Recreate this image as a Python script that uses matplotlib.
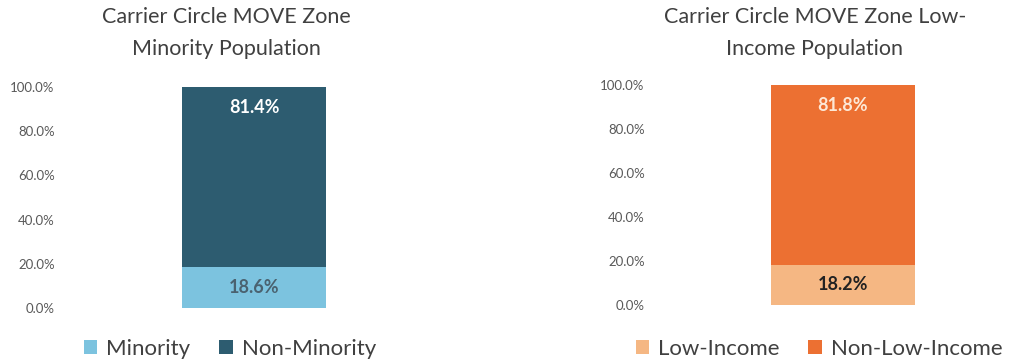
import matplotlib
matplotlib.use("Agg")
import matplotlib.pyplot as plt
from matplotlib.ticker import PercentFormatter

plt.rcParams['font.family'] = ['Lato', 'DejaVu Sans']

# shares of the zone population
minority_labels = ["Minority", "Non-Minority"]
minority_share = [18.6, 81.4]
income_labels = ["Low-Income", "Non-Low-Income"]
income_share = [18.2, 81.8]
yticks = [0, 20, 40, 60, 80, 100]

W, H = 1009, 362
fig = plt.figure(figsize=(W / 100, H / 100), dpi=100)


def px_axes(x0, x1, ytop, ybot):
    return fig.add_axes([x0 / W, (H - ybot) / H, (x1 - x0) / W, (ybot - ytop) / H])


def stacked(ax, shares, names, colors, text_colors, xlim):
    bottom = 0
    bars = []
    for val, name, col, tc in zip(shares, names, colors, text_colors):
        b = ax.bar(0, val, width=0.6, bottom=bottom, color=col, label=name)
        bars.append(b)
        ax.text(0, bottom + val - 9.5 if val > 50 else bottom + val / 2, f"{val:.1f}%",
                ha="center", va="center", fontsize=13, fontweight="bold", color=tc)
        bottom += val
    ax.set_ylim(0, 100)
    ax.set_xlim(*xlim)
    ax.set_yticks(yticks)
    ax.yaxis.set_major_formatter(PercentFormatter(decimals=1))
    ax.tick_params(axis="y", length=0, labelsize=9.5, labelcolor="#595959", pad=6)
    ax.set_xticks([])
    for s in ax.spines.values():
        s.set_visible(False)
    return bars


ax1 = px_axes(63, 445, 87, 308)
b1 = stacked(ax1, minority_share, minority_labels, ["#7cc3df", "#2d5c70"],
             ["#4a6270", "white"], (-0.796, 0.796))
ax2 = px_axes(653, 1000, 85, 305)
b2 = stacked(ax2, income_share, income_labels, ["#f5b783", "#ec7032"],
             ["#222222", "#fde8d6"], (-0.792, 0.654))

fig.text(226 / W, 1 - 33 / H, "Carrier Circle MOVE Zone\nMinority Population",
         ha="center", va="center", fontsize=15.5, color="#404040", linespacing=1.75)
fig.text(815 / W, 1 - 33 / H, "Carrier Circle MOVE Zone Low-\nIncome Population",
         ha="center", va="center", fontsize=15.5, color="#404040", linespacing=1.75)

for bars, cx in ((b1, 230), (b2, 819)):
    fig.legend(handles=bars, loc="center", bbox_to_anchor=(cx / W, 1 - 349 / H),
               ncol=2, frameon=False, fontsize=16, handlelength=0.6, handleheight=0.6,
               handletextpad=0.4, columnspacing=1.3, labelcolor="#404040")

fig.savefig("out.png", dpi=100)
